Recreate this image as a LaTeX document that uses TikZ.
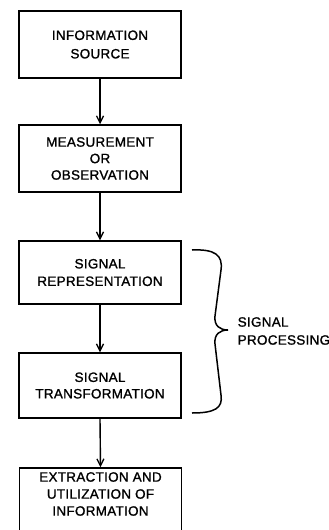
\documentclass[tikz,border=0pt]{standalone}
\usepackage{fontspec}
\newfontfamily\lettering[LetterSpace=2,FakeBold=1.2]{Liberation Sans}
\usetikzlibrary{arrows.meta}
\begin{document}
\begin{tikzpicture}[x=1pt,y=-1pt,
  blk/.style={draw,line width=1.5pt,minimum width=162pt,inner sep=0pt,align=center,
    font=\lettering\fontsize{13.5}{17.5}\selectfont},
  txt/.style={align=center,inner sep=0pt,font=\lettering\fontsize{13.5}{17.5}\selectfont},
  flow/.style={line width=1.4pt,-{Straight Barb[length=7pt,width=7pt,line width=1.3pt]}},
  lbl/.style={align=left,inner sep=0pt,font=\lettering\fontsize{13.5}{18}\selectfont}]
\useasboundingbox (0,0) rectangle (329,530);
\node[blk,minimum height=67pt] (src) at (100,44.5) {INFORMATION\\[1pt]SOURCE};
\node[blk,minimum height=67pt] (meas) at (100,158.5) {MEASUREMENT\\[-1pt]OR\\[-1pt]OBSERVATION};
\node[blk,minimum height=63pt] (rep) at (100,272.5) {SIGNAL\\REPRESENTATION};
\node[blk,minimum height=65pt] (trans) at (100,385.5) {SIGNAL\\[-1pt]TRANSFORMATION};
\node[blk,minimum height=72pt] (ext) at (100.5,504) {};
\node[txt] (extt) at (100.5,494) {EXTRACTION AND\\[-0.5pt]UTILIZATION OF\\[-0.5pt]INFORMATION};
\draw[flow] (src.south) -- (meas.north);
\draw[flow] (meas.south) -- (rep.north);
\draw[flow] (rep.south) -- (trans.north);
\draw[flow] (trans.south) -- (ext.north);
\coordinate (bt) at (192,250);
\coordinate (bb) at (192,413);
\coordinate (tip) at (228,330);
\draw[line width=1.5pt] (bt) .. controls (215,249) and (223,255) .. (221,270)
  -- (215,316) .. controls (214,326) and (220,330) .. (tip)
  .. controls (220,330) and (214,334) .. (215,344)
  -- (221,395) .. controls (223,408) and (215,413) .. (bb);
\node[lbl,anchor=west] (sp) at (237.5,331) {SIGNAL\\PROCESSING};
\end{tikzpicture}
\end{document}
